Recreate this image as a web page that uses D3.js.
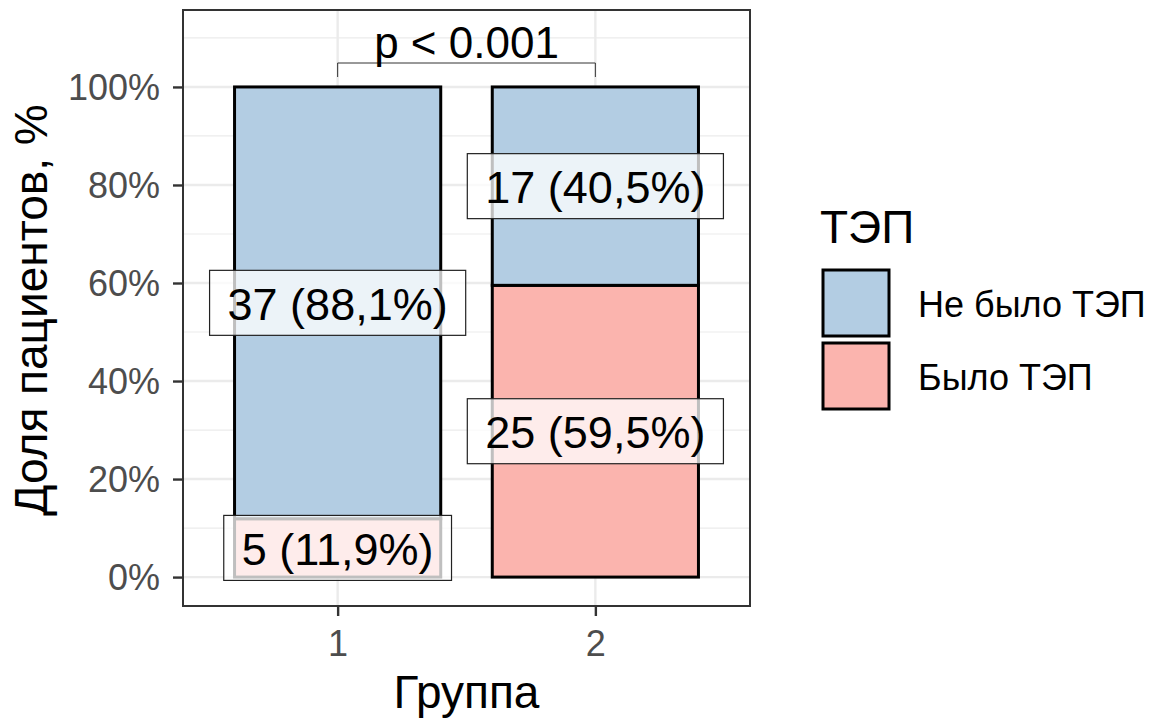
<!DOCTYPE html>
<html>
<head>
<meta charset="utf-8">
<script src="https://cdn.jsdelivr.net/npm/d3@7"></script>
<style>
  body { margin: 0; background: #fff; }
  svg text { font-family: Arial, "Liberation Sans", sans-serif; }
</style>
</head>
<body>
<svg id="chart" width="1164" height="722"></svg>
<script>
// data
var groups = ['1', '2']
var categories = ['Не было ТЭП', 'Было ТЭП']
var colors = ['#b3cde3', '#fbb4ae']
var counts_no = [37, 17]
var counts_yes = [5, 25]
var yTicks = [0, 0.2, 0.4, 0.6, 0.8, 1]
var yMinor = [0.1, 0.3, 0.5, 0.7, 0.9, 1.1]
var pText = 'p < 0.001'
var xTitle = 'Группа'
var yTitle = 'Доля пациентов, %'
var legendTitle = 'ТЭП'

// panel box
const pLeft = 183, pRight = 750, pTop = 10, pBottom = 606

const x_scale = d3.scalePoint().domain(groups).range([pLeft, pRight]).padding(0.6)
const y_scale = d3.scaleLinear().domain([-0.059, 1.157]).range([pBottom, pTop])
const barW = x_scale.step() * 0.8

var svg = d3.select('#chart')

function fmtPct(v) {
    return (v * 100).toFixed(1).replace('.', ',') + '%'
}

// build stacked segments: red at bottom, blue on top
let segs = []
for (var i = 0; i < groups.length; i++) {
    let total = counts_no[i] + counts_yes[i]
    let pYes = counts_yes[i] / total
    let pNo = counts_no[i] / total
    segs.push({ g: groups[i], y0: 0, y1: pYes, n: counts_yes[i], p: pYes, c: colors[1] })
    segs.push({ g: groups[i], y0: pYes, y1: 1, n: counts_no[i], p: pNo, c: colors[0] })
}

// grid
var grid = svg.append('g')
grid.selectAll('.minor').data(yMinor).enter().append('line')
    .attr('x1', pLeft).attr('x2', pRight)
    .attr('y1', d => y_scale(d)).attr('y2', d => y_scale(d))
    .attr('stroke', '#ebebeb').attr('stroke-width', 1.2)
grid.selectAll('.major').data(yTicks).enter().append('line')
    .attr('x1', pLeft).attr('x2', pRight)
    .attr('y1', d => y_scale(d)).attr('y2', d => y_scale(d))
    .attr('stroke', '#ebebeb').attr('stroke-width', 2.4)
grid.selectAll('.vmajor').data(groups).enter().append('line')
    .attr('x1', d => x_scale(d)).attr('x2', d => x_scale(d))
    .attr('y1', pTop).attr('y2', pBottom)
    .attr('stroke', '#ebebeb').attr('stroke-width', 2.4)

// bars
svg.append('g').selectAll('rect').data(segs).enter().append('rect')
    .attr('x', d => x_scale(d.g) - barW / 2)
    .attr('width', barW)
    .attr('y', d => y_scale(d.y1))
    .attr('height', d => y_scale(d.y0) - y_scale(d.y1))
    .attr('fill', d => d.c)
    .attr('stroke', 'black')
    .attr('stroke-width', 3)

// labels
var lab = svg.append('g').selectAll('g').data(segs).enter().append('g')
lab.append('text')
    .attr('x', d => x_scale(d.g))
    .attr('y', d => y_scale((d.y0 + d.y1) / 2) + 17)
    .attr('text-anchor', 'middle')
    .attr('font-size', 45)
    .attr('fill', 'black')
    .text(d => d.n + ' (' + fmtPct(d.p) + ')')
lab.each(function (d) {
    let t = d3.select(this).select('text')
    let w = t.node().getComputedTextLength()
    d3.select(this).insert('rect', 'text')
        .attr('x', x_scale(d.g) - w / 2 - 18)
        .attr('y', y_scale((d.y0 + d.y1) / 2) - 32.5)
        .attr('width', w + 36)
        .attr('height', 65)
        .attr('fill', 'white')
        .attr('fill-opacity', 0.75)
        .attr('stroke', '#222')
        .attr('stroke-width', 1.2)
})

// panel border
svg.append('rect')
    .attr('x', pLeft).attr('y', pTop)
    .attr('width', pRight - pLeft).attr('height', pBottom - pTop)
    .attr('fill', 'none').attr('stroke', '#333333').attr('stroke-width', 2)

// axes
const yAxis = d3.axisLeft(y_scale).tickValues(yTicks).tickSize(10).tickPadding(13)
    .tickFormat(d => Math.round(d * 100) + '%')
const xAxis = d3.axisBottom(x_scale).tickSize(10).tickPadding(14)

var gy = svg.append('g').attr('transform', 'translate(' + pLeft + ',0)').call(yAxis)
var gx = svg.append('g').attr('transform', 'translate(0,' + pBottom + ')').call(xAxis)
for (let g of [gx, gy]) {
    g.select('.domain').remove()
    g.selectAll('.tick line').attr('stroke', '#333333').attr('stroke-width', 2.4)
    g.selectAll('.tick text').attr('fill', '#4d4d4d').attr('font-size', 36)
        .attr('font-family', 'Arial, "Liberation Sans", sans-serif')
}
gy.selectAll('.tick text').attr('dy', '0.35em')

// axis titles
svg.append('text').attr('x', (pLeft + pRight) / 2).attr('y', 708)
    .attr('text-anchor', 'middle').attr('font-size', 46).text(xTitle)
svg.append('text')
    .attr('transform', 'translate(47,310) rotate(-90)')
    .attr('text-anchor', 'middle').attr('font-size', 46).text(yTitle)

// p value bracket
var x1 = x_scale(groups[0]), x2 = x_scale(groups[1])
var by = 63
svg.append('path')
    .attr('d', 'M' + x1 + ',' + 77 + 'V' + by + 'H' + x2 + 'V' + 77)
    .attr('fill', 'none').attr('stroke', '#333').attr('stroke-width', 1)
svg.append('text').attr('x', (x1 + x2) / 2).attr('y', 58)
    .attr('text-anchor', 'middle').attr('font-size', 44).text(pText)

// legend
var lg = svg.append('g')
lg.append('text').attr('x', 820).attr('y', 243).attr('font-size', 46).text(legendTitle)
lg.selectAll('rect').data(categories).enter().append('rect')
    .attr('x', 823).attr('y', (d, i) => 270 + i * 73)
    .attr('width', 66).attr('height', 66)
    .attr('fill', (d, i) => colors[i])
    .attr('stroke', 'black').attr('stroke-width', 3)
lg.selectAll('.lt').data(categories).enter().append('text')
    .attr('x', 918).attr('y', (d, i) => 303 + i * 73 + 14)
    .attr('font-size', 36).text(d => d)
</script>
</body>
</html>
